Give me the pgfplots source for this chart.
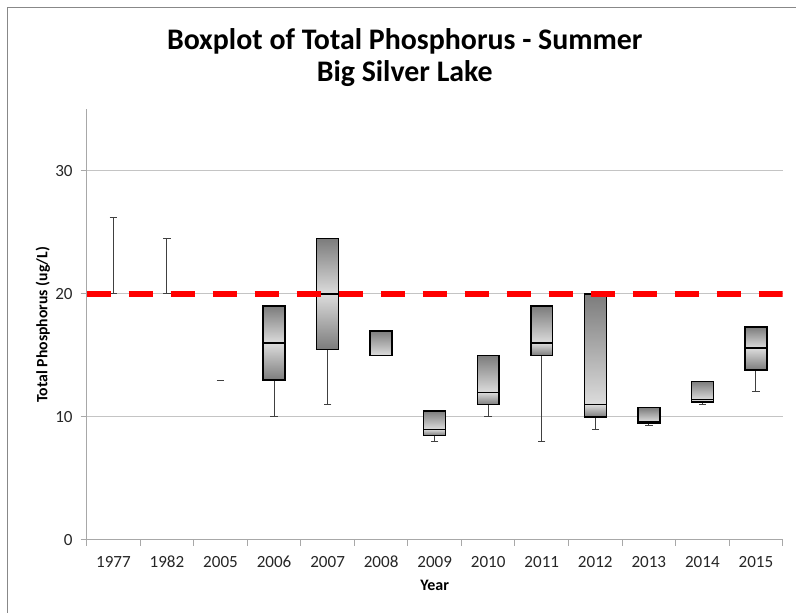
\documentclass[border=0pt]{standalone}
\usepackage{pgfplots}
\pgfplotsset{compat=1.18}
\usepackage{pgfplotstable}
\usepgfplotslibrary{statistics}
\usepackage{fontspec}
\setmainfont{Carlito}
\definecolor{axiscol}{HTML}{A8A8A8}
\definecolor{gridcol}{HTML}{C4C4C4}
\definecolor{framecol}{HTML}{888888}
\definecolor{boxdark}{HTML}{7C7C7C}
\definecolor{boxlight}{HTML}{DCDCDC}
\definecolor{whiskcol}{HTML}{404040}
\definecolor{labcol}{HTML}{262626}

% whisker data: position, q1, q3, min, max
\pgfplotstableread{
x q1 q3 min max
0 20 20 20 26.2
1 20 20 20 24.5
2 13 13 13 13
3 13 19 10 19
4 15.5 24.5 11 24.5
5 15 17 15 17
6 8.5 10.5 8 10.5
7 11 15 10 15
8 15 19 8 19
9 10 20 9 20
10 9.5 10.75 9.3 10.75
11 11.2 12.9 11 12.9
12 13.8 17.3 12.1 17.3
}\whisk

\newcommand\seg[4]{\addplot[#4, boxplot prepared={draw position=#1, lower quartile=#2, upper quartile=#3, median=#2, lower whisker=#2, upper whisker=#3}] coordinates {};}

\begin{document}
\begin{tikzpicture}
\path[use as bounding box] (-65pt,-54.75pt) rectangle (532pt,405pt);
\draw[framecol, line width=0.75pt] (-59.4pt,-54.75pt) -- (-59.4pt,399pt) -- (532pt,399pt);
\begin{axis}[
  at={(0,0)}, anchor=south west,
  scale only axis, width=522pt, height=323pt,
  xmin=-0.5, xmax=12.5, ymin=0, ymax=35,
  axis lines*=left,
  axis line style={draw=axiscol, line width=0.75pt},
  xtick={0,...,12},
  xticklabels={1977,1982,2005,2006,2007,2008,2009,2010,2011,2012,2013,2014,2015},
  minor xtick={-0.5,0.5,...,12.5},
  ytick={0,10,20,30},
  tick align=outside,
  major tick length=4.5pt, minor tick length=4.5pt,
  tick style={draw=axiscol, line width=0.75pt},
  major x tick style={draw=none},
  ymajorgrids, grid style={draw=gridcol, line width=0.75pt},
  ticklabel style={font=\fontsize{12.8}{14}\selectfont, text=labcol},
  xticklabel style={anchor=north, text height=8.5pt, text depth=0pt, yshift=-4pt},
  yticklabel style={xshift=-2.5pt},
  /pgf/number format/assume math mode=true,
  xlabel={Year}, ylabel={Total Phosphorus (ug/L)},
  xlabel style={font=\bfseries\fontsize{12}{14}\selectfont, at={(axis description cs:0.5,-0.1045)}, anchor=center},
  ylabel style={font=\bfseries\fontsize{11.8}{14}\selectfont, at={(axis description cs:-0.0628,0.5)}, anchor=center},
  title={Boxplot of Total Phosphorus - Summer\\Big Silver Lake},
  title style={font=\bfseries\fontsize{22.4}{24}\selectfont, align=center, at={(axis description cs:0.457,1.101)}, anchor=center},
  boxplot/draw direction=y,
  boxplot/box extend=0.41,
  boxplot/every whisker/.style={draw=none},
  boxplot/every median/.style={draw=none},
  lo/.style={boxplot/every box/.style={draw=black, line width=1.1pt, top color=boxlight, bottom color=boxdark}},
  up/.style={boxplot/every box/.style={draw=black, line width=1.1pt, top color=boxdark, bottom color=boxlight}},
]
% whiskers (upper)
\addplot[draw=none, mark=none,
  error bars/.cd, y dir=plus, y explicit,
  error bar style={draw=whiskcol, line width=0.75pt},
  error mark options={rotate=90, draw=whiskcol, line width=0.75pt, mark size=2.8pt}]
  table[x=x, y=q3, y error expr=\thisrow{max}-\thisrow{q3}] {\whisk};
% whiskers (lower)
\addplot[draw=none, mark=none,
  error bars/.cd, y dir=minus, y explicit,
  error bar style={draw=whiskcol, line width=0.75pt},
  error mark options={rotate=90, draw=whiskcol, line width=0.75pt, mark size=2.8pt}]
  table[x=x, y=q1, y error expr=\thisrow{q1}-\thisrow{min}] {\whisk};
% boxes: position, from, to
\seg{3}{13}{16}{lo}    \seg{3}{16}{19}{up}
\seg{4}{15.5}{20}{lo}  \seg{4}{20}{24.5}{up}
\seg{5}{15}{17}{up}
\seg{6}{8.5}{9}{lo}    \seg{6}{9}{10.5}{up}
\seg{7}{11}{12}{lo}    \seg{7}{12}{15}{up}
\seg{8}{15}{16}{lo}    \seg{8}{16}{19}{up}
\seg{9}{10}{11}{lo}    \seg{9}{11}{20}{up}
\seg{10}{9.5}{9.6}{lo} \seg{10}{9.6}{10.75}{up}
\seg{11}{11.2}{11.4}{lo} \seg{11}{11.4}{12.9}{up}
\seg{12}{13.8}{15.6}{lo} \seg{12}{15.6}{17.3}{up}
% reference line
\addplot[red, line width=4pt, dash pattern=on 18pt off 13.5pt] coordinates {(-0.5,20) (12.5,20)};
\end{axis}
\end{tikzpicture}
\end{document}
